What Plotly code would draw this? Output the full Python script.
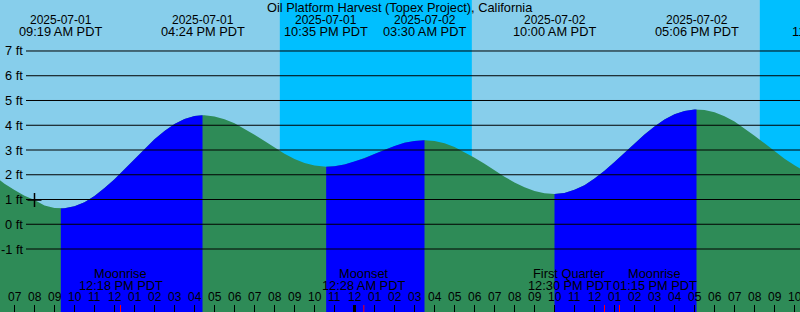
import pandas as pd
import plotly.graph_objects as go

# ---------------- data ----------------
title_text = "Oil Platform Harvest (Topex Project), California"

# tide level (ft), every 30 minutes
day1_start = "2025-07-01 06:00"
day1_ft = [1.95, 1.64, 1.38, 1.15, 0.98, 0.76, 0.66, 0.65, 0.73, 0.89, 1.14, 1.46,
           1.82, 2.22, 2.64, 3.05, 3.43, 3.77, 4.05, 4.25, 4.37, 4.40, 4.35, 4.24,
           4.08, 3.86, 3.62, 3.36, 3.09, 2.85, 2.64, 2.47, 2.37, 2.32, 2.34, 2.41]
day2_start = "2025-07-02 00:00"
day2_ft = [2.53, 2.67, 2.84, 3.01, 3.16, 3.29, 3.36, 3.39, 3.36, 3.27, 3.12, 2.92,
           2.69, 2.44, 2.17, 1.92, 1.69, 1.49, 1.34, 1.25, 1.22, 1.26, 1.39, 1.58,
           1.85, 2.16, 2.52, 2.89, 3.27, 3.63, 3.95, 4.23, 4.44, 4.58, 4.64, 4.62,
           4.52, 4.36, 4.15, 3.88, 3.58, 3.27, 2.95, 2.65, 2.38, 2.15, 1.98, 1.88]

# high / low tide events
event_time = ["2025-07-01 09:19", "2025-07-01 16:24", "2025-07-01 22:35",
              "2025-07-02 03:30", "2025-07-02 10:00", "2025-07-02 17:06",
              "2025-07-02 23:58"]
event_ft = [0.64, 4.40, 2.32, 3.39, 1.22, 4.64, 1.85]
event_date = ["2025-07-01", "2025-07-01", "2025-07-01",
              "2025-07-02", "2025-07-02", "2025-07-02", "2025-07-02"]
event_clock = ["09:19 AM PDT", "04:24 PM PDT", "10:35 PM PDT",
               "03:30 AM PDT", "10:00 AM PDT", "05:06 PM PDT", "11:58 PM PDT"]

# night (sunset -> sunrise)
night_start = ["2025-07-01 20:16", "2025-07-02 20:16"]
night_end = ["2025-07-02 05:52", "2025-07-03 05:53"]

# moon events
moon_time = ["2025-07-01 12:18", "2025-07-02 00:28", "2025-07-02 12:30", "2025-07-02 13:15"]
moon_name = ["Moonrise", "Moonset", "First Quarter", "Moonrise"]
moon_clock = ["12:18 PM PDT", "12:28 AM PDT", "12:30 PM PDT", "01:15 PM PDT"]

# hour ticks
hour_time = list(pd.date_range("2025-07-01 07:00", "2025-07-02 22:00", freq="h"))
hour_labels = ["07", "08", "09", "10", "11", "12", "01", "02", "03", "04", "05", "06",
               "07", "08", "09", "10", "11", "12", "01", "02", "03", "04", "05", "06",
               "07", "08", "09", "10", "11", "12", "01", "02", "03", "04", "05", "06",
               "07", "08", "09", "10"]
midnight_time = ["2025-07-02 00:00"]

grid_ft = [-1, 0, 1, 2, 3, 4, 5, 6, 7]
grid_labels = ["-1 ft", "0 ft", "1 ft", "2 ft", "3 ft", "4 ft", "5 ft", "6 ft", "7 ft"]

now_time = ["2025-07-01 08:00"]
now_ft = [0.98]

x_range = ["2025-07-01 06:16:30", "2025-07-02 22:16:30"]
y_range = [-3.545, 9.06]

# ---------------- styles ----------------
W, H = 800, 312
DAY = "#87CEEB"
NIGHT = "#00BFFF"
FLOOD = "#0000FF"
EBB = "#2E8B57"
FONT = "Liberation Sans, Arial, sans-serif"
moon_shift = [0, 0, -35, 35]


def ypx(px):
    return 1 - px / H


# ---------------- build ----------------
t1 = pd.date_range(day1_start, periods=len(day1_ft), freq="30min")
t2 = pd.date_range(day2_start, periods=len(day2_ft), freq="30min")
samples = pd.DataFrame({"t": list(t1) + list(t2), "ft": day1_ft + day2_ft})
events = pd.DataFrame({"t": pd.to_datetime(event_time), "ft": event_ft})
curve = pd.concat([samples, events]).sort_values("t", kind="stable").reset_index(drop=True)

floor = y_range[0] - 1
fig = go.Figure()

# whole curve in ebb colour
xs = list(curve["t"]) + [curve["t"].iloc[-1], curve["t"].iloc[0]]
ys = list(curve["ft"]) + [floor, floor]
fig.add_trace(go.Scatter(x=xs, y=ys, fill="toself", fillcolor=EBB, mode="lines",
                         line=dict(width=0), hoverinfo="skip", showlegend=False))

# rising segments in flood colour
bounds = [curve["t"].iloc[0]] + list(events["t"])
for a, b in zip(bounds[:-1], bounds[1:]):
    seg = curve[(curve["t"] >= a) & (curve["t"] <= b)]
    if seg["ft"].iloc[-1] > seg["ft"].iloc[0]:
        xs = list(seg["t"]) + [b, a]
        ys = list(seg["ft"]) + [floor, floor]
        fig.add_trace(go.Scatter(x=xs, y=ys, fill="toself", fillcolor=FLOOD, mode="lines",
                                 line=dict(width=0), hoverinfo="skip", showlegend=False))

# current time marker
fig.add_trace(go.Scatter(x=pd.to_datetime(now_time), y=now_ft, mode="markers",
                         marker=dict(symbol="cross-thin", size=10,
                                     line=dict(width=1.5, color="black")),
                         hoverinfo="skip", showlegend=False))

shapes = []
for s, e in zip(night_start, night_end):
    shapes.append(dict(type="rect", xref="x", yref="paper", x0=s, x1=e, y0=0, y1=1,
                       fillcolor=NIGHT, line=dict(width=0), layer="below"))
for g in grid_ft:
    shapes.append(dict(type="line", xref="paper", yref="y", x0=26 / W, x1=1, y0=g, y1=g,
                       line=dict(color="black", width=1), layer="above"))
for m in midnight_time:
    shapes.append(dict(type="line", xref="x", yref="paper", x0=m, x1=m, y0=0, y1=7 / H,
                       line=dict(color="black", width=3), layer="above"))
for m in moon_time:
    shapes.append(dict(type="line", xref="x", yref="paper", x0=m, x1=m, y0=0, y1=7 / H,
                       line=dict(color="red", width=1), layer="above"))

ann = []
f12 = dict(family=FONT, size=12, color="black")
f13 = dict(family=FONT, size=12.8, color="black")
ann.append(dict(text=title_text, xref="paper", yref="paper", x=0.5, y=ypx(7.2),
                xanchor="center", yanchor="middle", showarrow=False, font=f13))

x0 = pd.Timestamp(x_range[0])
x1 = pd.Timestamp(x_range[1])
for t, d, c in zip(event_time, event_date, event_clock):
    tt = pd.Timestamp(t)
    if x0 <= tt <= x1:
        xr, xv = "x", t
    else:
        xr, xv = "paper", (tt - x0) / (x1 - x0)
    ann.append(dict(text=d, xref=xr, yref="paper", x=xv, y=ypx(20), xanchor="center",
                    yanchor="middle", showarrow=False, font=f12))
    ann.append(dict(text=c, xref=xr, yref="paper", x=xv, y=ypx(31.3), xanchor="center",
                    yanchor="middle", showarrow=False, font=f13))

for t, n, c, sh in zip(moon_time, moon_name, moon_clock, moon_shift):
    ann.append(dict(text=n, xref="x", yref="paper", x=t, y=ypx(273.8), xanchor="center",
                    yanchor="middle", xshift=sh, showarrow=False, font=f13))
    ann.append(dict(text=c, xref="x", yref="paper", x=t, y=ypx(285), xanchor="center",
                    yanchor="middle", xshift=sh, showarrow=False, font=f13))

for t, l in zip(hour_time, hour_labels):
    ann.append(dict(text=l, xref="x", yref="paper", x=t, y=ypx(296.8), xanchor="center",
                    yanchor="middle", showarrow=False, font=f12))

for g, l in zip(grid_ft, grid_labels):
    ann.append(dict(text=l, xref="paper", yref="y", x=24.5 / W, y=g, xanchor="right",
                    yanchor="middle", showarrow=False, font=f13))

fig.update_layout(
    width=W, height=H, margin=dict(l=0, r=0, t=0, b=0),
    paper_bgcolor=DAY, plot_bgcolor=DAY,
    showlegend=False, shapes=shapes, annotations=ann,
    xaxis=dict(type="date", range=x_range, showgrid=False, zeroline=False,
               showline=False, ticks="inside", ticklen=7, tickwidth=1,
               tickcolor="black", tickvals=hour_time, showticklabels=False,
               fixedrange=True),
    yaxis=dict(range=y_range, showgrid=False, zeroline=False, showline=False,
               showticklabels=False, ticks="", fixedrange=True),
    hovermode=False,
)

fig.write_html("out.html", config={"displayModeBar": False})
